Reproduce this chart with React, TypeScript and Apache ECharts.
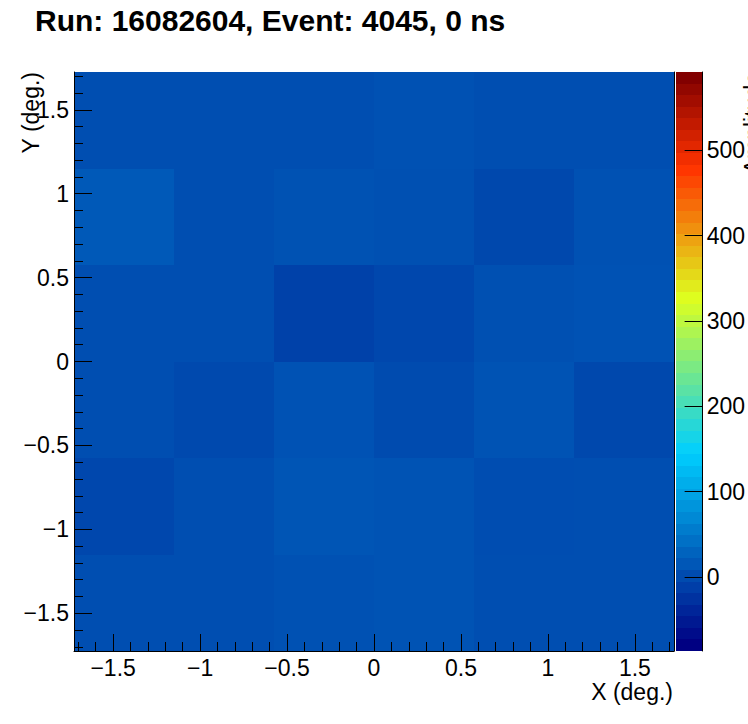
import { useEffect, useRef } from "react";
import * as echarts from "echarts";

const TITLE = "Run: 16082604, Event: 4045, 0 ns";
const X_TITLE = "X (deg.)";
const Y_TITLE = "Y (deg.)";
const Z_TITLE = "Amplitude";

// bin edges (deg.)
const xEdges = [-1.725, -1.15, -0.575, 0, 0.575, 1.15, 1.725];
const yEdges = [-1.725, -1.15, -0.575, 0, 0.575, 1.15, 1.725];

// amplitudes, rows from bottom (y = -1.44) to top (y = 1.44), columns left to right
const amplitudes = [
  [0, 0, 3, 6, 0, 0],
  [-8, 0, 8, 6, -1, 0],
  [0, -6, 5, -3, 6, -7],
  [0, 0, -15, -8, 2, 5],
  [12, 0, 4, 2, -7, 3],
  [0, 0, 0, 3, 0, 0],
];

const zMin = -87;
const zMax = 592;
const nContours = 50;

const majorTicks = [-1.5, -1, -0.5, 0, 0.5, 1, 1.5];
const minorTicks = [
  -1.7, -1.6, -1.4, -1.3, -1.2, -1.1, -0.9, -0.8, -0.7, -0.6, -0.4, -0.3, -0.2, -0.1,
  0.1, 0.2, 0.3, 0.4, 0.6, 0.7, 0.8, 0.9, 1.1, 1.2, 1.3, 1.4, 1.6, 1.7,
];
const zTicks = [0, 100, 200, 300, 400, 500];

// palette stops (fraction of z range, color)
const paletteStops: [number, string][] = [
  [0, "#000082"],
  [0.34, "#00cfff"],
  [0.61, "#deff1f"],
  [0.84, "#ff3300"],
  [1, "#820000"],
];

const FONT = "'Liberation Sans', Arial, Helvetica, sans-serif";

function hexToRgb(h: string) {
  const n = parseInt(h.slice(1), 16);
  return [(n >> 16) & 255, (n >> 8) & 255, n & 255];
}

function colorAtFraction(tt: number) {
  const t = Math.max(0, Math.min(1, tt));
  for (let i = 0; i < paletteStops.length - 1; i++) {
    const [t0, c0] = paletteStops[i];
    const [t1, c1] = paletteStops[i + 1];
    if (t <= t1) {
      const f = (t - t0) / (t1 - t0);
      const a = hexToRgb(c0);
      const b = hexToRgb(c1);
      const r = a.map((x, k) => Math.round(x + (b[k] - x) * f));
      return `rgb(${r[0]},${r[1]},${r[2]})`;
    }
  }
  return paletteStops[paletteStops.length - 1][1];
}

function colorAt(v: number) {
  return colorAtFraction((v - zMin) / (zMax - zMin));
}

const fmt = (v: number) => String(v).replace("-", "\u2212");

export default function App() {
  const ref = useRef<HTMLDivElement>(null);
  useEffect(() => {
    if (!ref.current) return;
    const chart = echarts.init(ref.current, null, { renderer: "svg" });

    const cells: number[][] = [];
    amplitudes.forEach((row, r) => {
      row.forEach((z, c) => {
        cells.push([xEdges[c], xEdges[c + 1], yEdges[r], yEdges[r + 1], z]);
      });
    });

    // stepped colour bar (ROOT-like contour bands), top = zMax
    const gradStops: { offset: number; color: string }[] = [];
    for (let i = nContours - 1; i >= 0; i--) {
      const col = colorAtFraction(i / (nContours - 1));
      const top = 1 - (i + 1) / nContours;
      const bot = 1 - i / nContours;
      gradStops.push({ offset: top, color: col });
      gradStops.push({ offset: bot, color: col });
    }

    const labelStyle = { fontFamily: FONT, fontSize: 23, color: "#000" };
    const blackLine = { show: true, onZero: false, lineStyle: { color: "#000", width: 1 } };

    chart.setOption({
      animation: false,
      backgroundColor: "#fff",
      grid: [
        { left: 74, top: 72, width: 600, height: 579 },
        { left: 676, top: 72, width: 34, height: 579 },
      ],
      xAxis: [
        {
          gridIndex: 0,
          type: "value",
          z: 10,
          min: xEdges[0],
          max: xEdges[xEdges.length - 1],
          position: "bottom",
          axisLine: blackLine,
          axisTick: { show: true, inside: true, length: 17, customValues: majorTicks, lineStyle: { color: "#000" } },
          axisLabel: { ...labelStyle, customValues: majorTicks, margin: 5, formatter: fmt },
          splitLine: { show: false },
        },
        {
          gridIndex: 0,
          type: "value",
          z: 10,
          min: xEdges[0],
          max: xEdges[xEdges.length - 1],
          position: "bottom",
          axisLine: { show: false, onZero: false },
          axisTick: { show: true, inside: true, length: 9, customValues: minorTicks, lineStyle: { color: "#000" } },
          axisLabel: { show: false },
          splitLine: { show: false },
        },
        { gridIndex: 1, type: "value", min: 0, max: 1, show: false, axisLine: { onZero: false } },
      ],
      yAxis: [
        {
          gridIndex: 0,
          type: "value",
          z: 10,
          min: yEdges[0],
          max: yEdges[yEdges.length - 1],
          position: "left",
          axisLine: blackLine,
          axisTick: { show: true, inside: true, length: 18, customValues: majorTicks, lineStyle: { color: "#000" } },
          axisLabel: { ...labelStyle, customValues: majorTicks, margin: 5, formatter: fmt },
          splitLine: { show: false },
        },
        {
          gridIndex: 0,
          type: "value",
          z: 10,
          min: yEdges[0],
          max: yEdges[yEdges.length - 1],
          position: "left",
          axisLine: { show: false, onZero: false },
          axisTick: { show: true, inside: true, length: 9, customValues: minorTicks, lineStyle: { color: "#000" } },
          axisLabel: { show: false },
          splitLine: { show: false },
        },
        {
          gridIndex: 0,
          type: "value",
          z: 10,
          min: yEdges[0],
          max: yEdges[yEdges.length - 1],
          position: "right",
          axisLine: blackLine,
          axisTick: { show: false },
          axisLabel: { show: false },
          splitLine: { show: false },
        },
        {
          gridIndex: 1,
          type: "value",
          z: 10,
          min: zMin,
          max: zMax,
          position: "right",
          axisLine: blackLine,
          axisTick: { show: true, inside: true, length: 18, customValues: zTicks, lineStyle: { color: "#000" } },
          axisLabel: { ...labelStyle, customValues: zTicks, margin: 4, formatter: fmt },
          splitLine: { show: false },
        },
      ],
      series: [
        {
          type: "custom",
          xAxisIndex: 0,
          yAxisIndex: 0,
          encode: { x: [0, 1], y: [2, 3] },
          data: cells,
          z: 1,
          renderItem: (_p: any, api: any) => {
            const a = api.coord([api.value(0), api.value(3)]);
            const b = api.coord([api.value(1), api.value(2)]);
            const x0 = Math.round(a[0]);
            const y0 = Math.round(a[1]);
            const x1 = Math.round(b[0]);
            const y1 = Math.round(b[1]);
            return {
              type: "rect",
              shape: { x: x0, y: y0, width: x1 - x0, height: y1 - y0 },
              style: { fill: colorAt(api.value(4)), stroke: null },
            };
          },
        },
        {
          type: "custom",
          xAxisIndex: 2,
          yAxisIndex: 3,
          encode: { x: [0, 1], y: [2, 3] },
          data: [[0, 1, zMin, zMax]],
          z: 1,
          renderItem: (_p: any, api: any) => {
            const a = api.coord([api.value(0), api.value(3)]);
            const b = api.coord([api.value(1), api.value(2)]);
            return {
              type: "rect",
              shape: { x: a[0], y: a[1], width: b[0] - a[0], height: b[1] - a[1] },
              style: {
                fill: new echarts.graphic.LinearGradient(0, 0, 0, 1, gradStops),
                stroke: null,
              },
            };
          },
        },
      ],
      graphic: [
        {
          type: "text",
          x: 35,
          y: 20,
          style: {
            text: TITLE,
            fontFamily: FONT,
            fontSize: 30,
            fontWeight: "bold",
            fill: "#000",
            align: "left",
            verticalAlign: "middle",
          },
        },
        {
          type: "text",
          x: 673,
          y: 692,
          style: { text: X_TITLE, fontFamily: FONT, fontSize: 23, fill: "#000", align: "right", verticalAlign: "middle" },
        },
        {
          type: "text",
          x: 31,
          y: 72,
          rotation: Math.PI / 2,
          style: { text: Y_TITLE, fontFamily: FONT, fontSize: 23, fill: "#000", align: "right", verticalAlign: "middle" },
        },
        {
          type: "text",
          x: 753,
          y: 72,
          rotation: Math.PI / 2,
          style: { text: Z_TITLE, fontFamily: FONT, fontSize: 23, fill: "#000", align: "right", verticalAlign: "middle" },
        },
      ],
    });
    return () => chart.dispose();
  }, []);
  return (
    <div
      ref={ref}
      style={{ position: "fixed", left: 0, top: 0, width: 748, height: 724 }}
    />
  );
}
